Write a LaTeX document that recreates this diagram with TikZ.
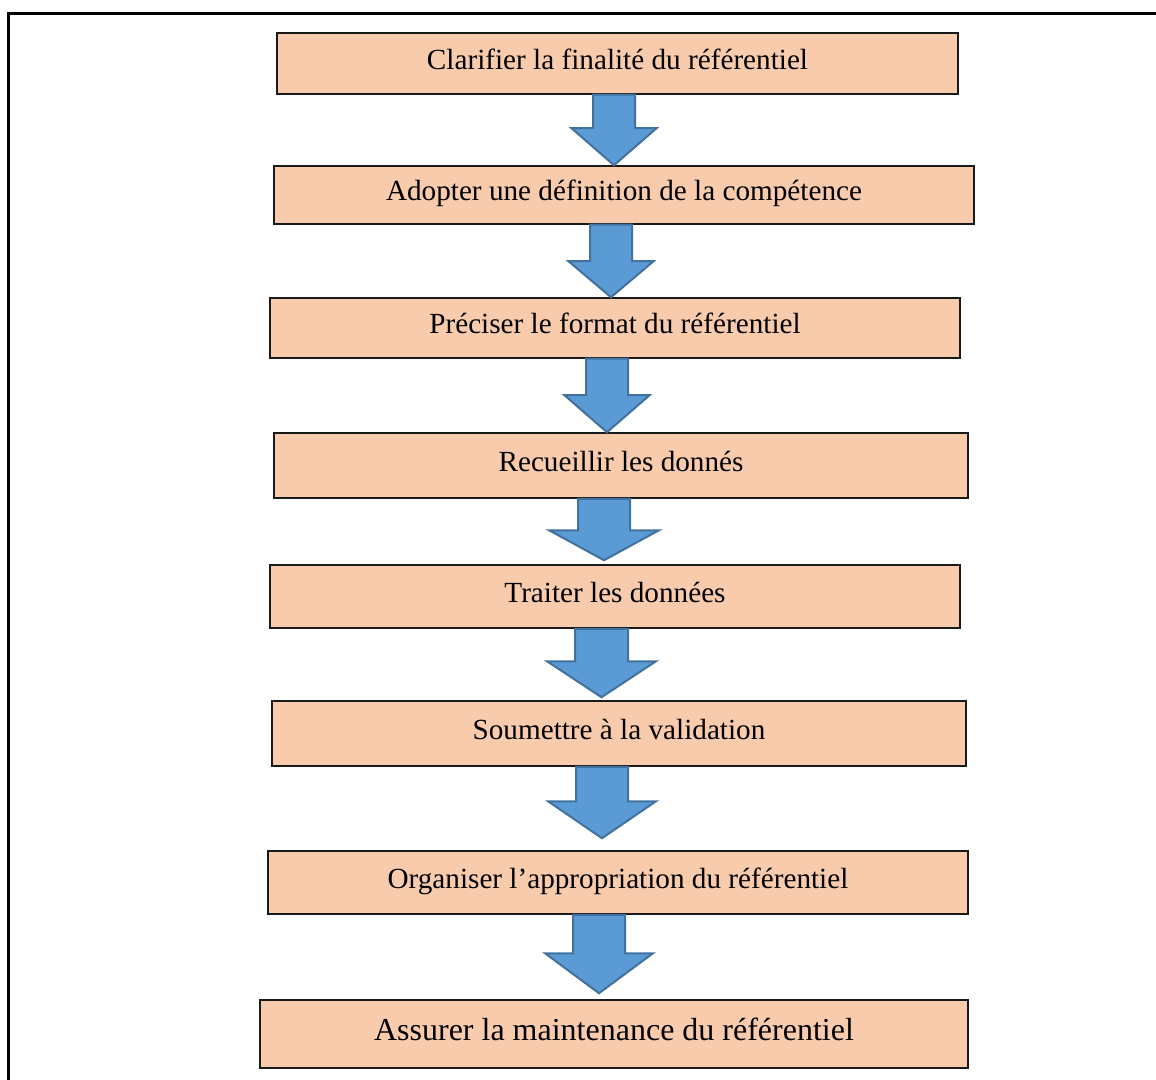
\documentclass[tikz,border=0pt]{standalone}
\usepackage{fontspec}
\setmainfont{Liberation Serif}
\usetikzlibrary{calc}
\definecolor{stepfill}{HTML}{F8CBAD}
\definecolor{stepline}{HTML}{1A1A1A}
\definecolor{arrowfill}{HTML}{5B9BD5}
\definecolor{arrowline}{HTML}{41719C}
\tikzset{
  stepbox/.style={draw=stepline, fill=stepfill, line width=0.75pt, inner sep=0pt,
    text height=10pt, text depth=4pt, font=\fontsize{14.6}{17}\selectfont, text=black},
  blockarrow/.style={draw=arrowline, fill=arrowfill, line width=1pt, line join=miter},
  frameline/.style={draw=black, line width=1.5pt}
}
% #1 from, #2 to, #3 x, #4 shaft half, #5 head half, #6 head length, #7 gap (pt)
\newcommand\flowarrow[7]{%
  \coordinate (ax) at (#3,0);
  \draw[blockarrow] let \p1=(#1.south -| ax), \p2=(#2.north -| ax) in
    (\x1-#4pt,\y1) -- (\x1+#4pt,\y1) -- (\x1+#4pt,\y2+#7pt+#6pt)
    -- (\x1+#5pt,\y2+#7pt+#6pt) -- (\x1,\y2+#7pt)
    -- (\x1-#5pt,\y2+#7pt+#6pt) -- (\x1-#4pt,\y2+#7pt+#6pt) -- cycle;}

\begin{document}
\begin{tikzpicture}[x=0.5pt, y=-0.5pt]
\useasboundingbox (0,0) rectangle (1156,1080);
\draw[frameline] (8,1080) -- (8,14) -- (1156,14);

\node[stepbox, minimum width=340.5pt, minimum height=30.5pt] (clar) at (617.5,63.5) {Clarifier la finalité du référentiel};
\node[stepbox, minimum width=350pt, minimum height=29pt] (adop) at (624,195) {Adopter une définition de la compétence};
\node[stepbox, minimum width=345pt, minimum height=30pt] (prec) at (615,328) {Préciser le format du référentiel};
\node[stepbox, minimum width=347pt, minimum height=32.5pt] (recu) at (621,465.5) {Recueillir les donnés};
\node[stepbox, minimum width=345pt, minimum height=31.5pt] (trai) at (615,596.5) {Traiter les données};
\node[stepbox, minimum width=347pt, minimum height=32.5pt] (soum) at (619,733.5) {Soumettre à la validation};
\node[stepbox, minimum width=350pt, minimum height=31.5pt] (orga) at (618,882.5) {Organiser l’appropriation du référentiel};
\node[stepbox, minimum width=354pt, minimum height=34pt, font=\fontsize{16}{19}\selectfont] (assu) at (614,1034) {Assurer la maintenance du référentiel};

\flowarrow{clar}{adop}{614}{10.5}{21.25}{18.5}{0}
\flowarrow{adop}{prec}{611}{10.5}{21.25}{18}{0}
\flowarrow{prec}{recu}{607}{10.5}{21.25}{18.5}{0}
\flowarrow{recu}{trai}{604}{13}{27.5}{15}{2}
\flowarrow{trai}{soum}{601.5}{13.25}{27.25}{18}{1.5}
\flowarrow{soum}{orga}{602}{13}{27}{18.5}{6}
\flowarrow{orga}{assu}{599}{13}{27}{20}{3}
\end{tikzpicture}
\end{document}
